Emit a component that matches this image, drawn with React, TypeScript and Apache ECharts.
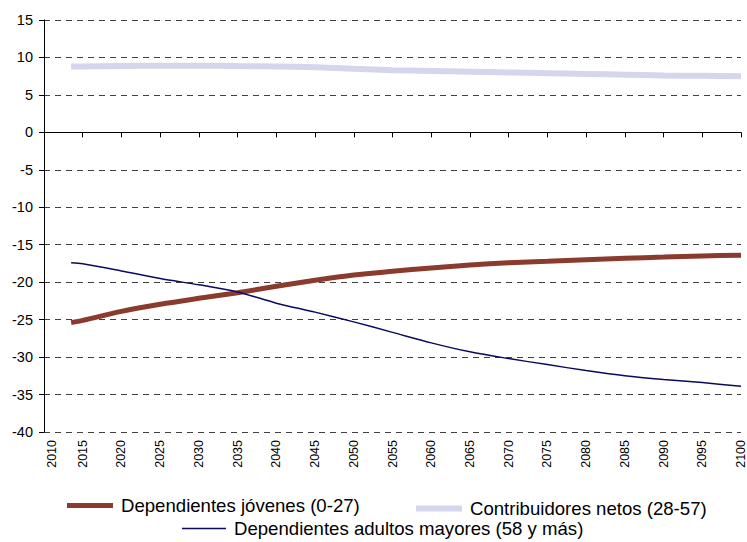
import React, { useEffect, useRef } from "react";
import * as echarts from "echarts";

const years = [2013.5, 2015, 2020, 2025, 2030, 2035, 2040, 2045, 2050, 2055, 2060, 2065, 2070, 2075, 2080, 2085, 2090, 2095, 2100];
const jovenes = [-25.4, -25.1, -23.9, -22.95, -22.15, -21.4, -20.55, -19.75, -19.05, -18.55, -18.1, -17.7, -17.4, -17.2, -17.0, -16.8, -16.65, -16.5, -16.4];
const contribuidores = [8.8, 8.8, 8.85, 8.9, 8.9, 8.85, 8.8, 8.7, 8.5, 8.3, 8.2, 8.1, 8.0, 7.9, 7.8, 7.7, 7.6, 7.55, 7.5];
const adultos = [-17.4, -17.55, -18.5, -19.5, -20.35, -21.3, -22.8, -24.0, -25.3, -26.7, -28.1, -29.3, -30.2, -31.0, -31.8, -32.5, -33.0, -33.4, -33.9];

const NAME_J = "Dependientes jóvenes (0-27)";
const NAME_C = "Contribuidores netos (28-57)";
const NAME_A = "Dependientes adultos mayores (58 y más)";

const FONT = "'Liberation Sans', Arial, Helvetica, sans-serif";
const BROWN = "#8B3B2E";
const LAVENDER = "#D5D5EC";
const NAVY = "#0A0A5E";

const pairs = (vals: number[]) => years.map((y, i) => [y, vals[i]]);

export default function App() {
  const ref = useRef<HTMLDivElement>(null);
  useEffect(() => {
    if (!ref.current) return;
    const chart = echarts.init(ref.current, undefined, { renderer: "svg" });
    const legendText = { fontSize: 18.6, fontFamily: FONT, color: "#000", padding: [0, 0, 0, 3] };
    chart.setOption({
      animation: false,
      backgroundColor: "#fff",
      grid: { left: 44, right: 6, top: 20, bottom: 110, containLabel: false, outerBoundsMode: "none" },
      xAxis: [
        {
          type: "value",
          min: 2010,
          max: 2100,
          interval: 5,
          position: "bottom",
          axisLine: { show: true, onZero: true, lineStyle: { color: "#000", width: 1 } },
          axisTick: { show: true, length: 5, lineStyle: { color: "#000", width: 1 } },
          axisLabel: { show: false },
          splitLine: { show: false },
        },
        {
          type: "value",
          min: 2010,
          max: 2100,
          interval: 5,
          position: "bottom",
          axisLine: { show: false, onZero: false },
          axisTick: { show: false },
          splitLine: { show: false },
          axisLabel: {
            show: true,
            rotate: 90,
            margin: 8,
            fontSize: 12.5,
            fontFamily: FONT,
            color: "#000",
            showMinLabel: true,
            showMaxLabel: true,
            formatter: (v: number) => (v === 2010 ? "{a|2010}" : String(v)),
            rich: {
              a: { padding: [16, 0, 0, 0], fontSize: 12.5, fontFamily: FONT, color: "#000" },
            },
          },
        },
      ],
      yAxis: {
        type: "value",
        min: -40,
        max: 15,
        interval: 5,
        axisLine: { show: true, lineStyle: { color: "#000", width: 1 } },
        axisTick: { show: true, length: 5, lineStyle: { color: "#000", width: 1 } },
        axisLabel: { margin: 11, fontSize: 14.5, fontFamily: FONT, color: "#000" },
        splitLine: { show: true, lineStyle: { color: "#404040", width: 1, type: [6, 5] } },
      },
      legend: [
        {
          data: [NAME_J],
          left: 67,
          top: 496,
          padding: 0,
          icon: "rect",
          itemWidth: 46,
          itemHeight: 5,
          selectedMode: false,
          textStyle: legendText,
        },
        {
          data: [NAME_C],
          left: 416,
          top: 499,
          padding: 0,
          icon: "rect",
          itemWidth: 46,
          itemHeight: 6,
          selectedMode: false,
          textStyle: legendText,
        },
        {
          data: [NAME_A],
          left: 182,
          top: 519,
          padding: 0,
          icon: "rect",
          itemWidth: 44,
          itemHeight: 1.5,
          selectedMode: false,
          textStyle: legendText,
        },
      ],
      series: [
        {
          name: NAME_C,
          type: "line",
          xAxisIndex: 0,
          data: pairs(contribuidores),
          showSymbol: false,
          symbol: "none",
          smooth: 0.3,
          color: LAVENDER,
          lineStyle: { color: LAVENDER, width: 6, cap: "butt" },
        },
        {
          name: NAME_J,
          type: "line",
          xAxisIndex: 0,
          data: pairs(jovenes),
          showSymbol: false,
          symbol: "none",
          smooth: 0.3,
          color: BROWN,
          lineStyle: { color: BROWN, width: 5, cap: "butt" },
        },
        {
          name: NAME_A,
          type: "line",
          xAxisIndex: 0,
          data: pairs(adultos),
          showSymbol: false,
          symbol: "none",
          smooth: 0.3,
          color: NAVY,
          lineStyle: { color: NAVY, width: 1.5 },
        },
      ],
    });
    return () => chart.dispose();
  }, []);
  return <div ref={ref} style={{ position: "fixed", left: 0, top: 0, width: 747, height: 542 }} />;
}
